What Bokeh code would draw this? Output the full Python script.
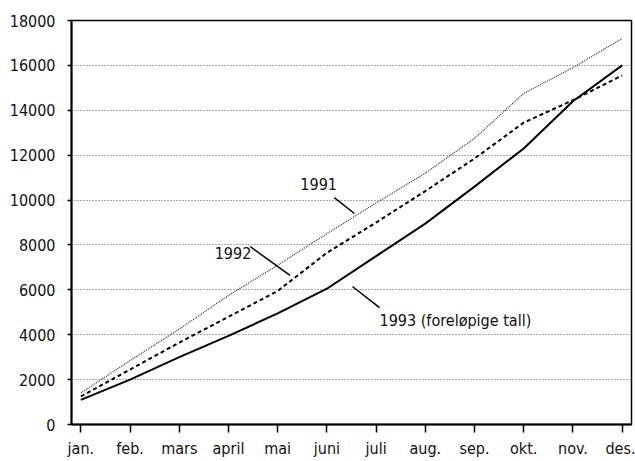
from bokeh.plotting import figure
from bokeh.models import FixedTicker, ColumnDataSource
from bokeh.core.properties import value
from bokeh.embed import file_html
from bokeh.resources import INLINE

months = ["jan.", "feb.", "mars", "april", "mai", "juni", "juli", "aug.", "sep.", "okt.", "nov.", "des."]
y1991 = [1400, 2850, 4250, 5750, 7100, 8500, 9870, 11200, 12750, 14750, 15900, 17200]
y1992 = [1250, 2450, 3650, 4800, 5950, 7650, 9000, 10400, 11850, 13450, 14450, 15550]
y1993 = [1100, 2000, 3000, 3950, 4950, 6050, 7500, 8950, 10600, 12300, 14400, 16000]
y_ticks = [0, 2000, 4000, 6000, 8000, 10000, 12000, 14000, 16000, 18000]

labels = ["1991", "1992", "1993 (foreløpige tall)"]
label_x = [4.46, 2.72, 6.07]
label_y = [10700, 7620, 4630]
lead_x0 = [5.15, 3.44, 5.52]
lead_y0 = [10110, 7930, 6150]
lead_x1 = [5.56, 4.25, 6.07]
lead_y1 = [9400, 6640, 5210]

FONT = "'DejaVu Sans Condensed', 'Liberation Sans', sans-serif"
x = list(range(len(months)))

p = figure(width=635, height=461, output_backend="svg", toolbar_location=None,
           x_range=(-0.19, 11.19), y_range=(0, 18000),
           min_border_left=71, min_border_top=20, min_border_right=4, min_border_bottom=37)
p.background_fill_color = "white"
p.border_fill_color = "white"
p.outline_line_color = "black"
p.outline_line_width = 1.5

p.xgrid.grid_line_color = None
p.ygrid.grid_line_color = "#555555"
p.ygrid.grid_line_dash = "1 2"
p.ygrid.grid_line_width = 1

p.xaxis.ticker = FixedTicker(ticks=x)
p.xaxis.major_label_overrides = {i: m for i, m in enumerate(months)}
p.yaxis.ticker = FixedTicker(ticks=y_ticks)
for ax in (p.xaxis[0], p.yaxis[0]):
    ax.axis_line_width = 2
    ax.axis_line_color = "black"
    ax.major_tick_line_color = "black"
    ax.major_tick_line_width = 1.5
    ax.minor_tick_line_color = None
    ax.major_tick_in = 0
    ax.major_label_text_font = FONT
    ax.major_label_text_font_size = "16px"
    ax.major_label_text_color = "#111111"
p.xaxis.major_tick_out = 8
p.xaxis.major_label_standoff = 6
p.yaxis.major_tick_out = 4
p.yaxis.major_label_standoff = 12

p.line(x, y1991, line_color="#333333", line_width=1.2, line_dash="1 1")
p.line(x, y1992, line_color="black", line_width=2, line_dash="4 3")
p.line(x, y1993, line_color="black", line_width=2)

src = ColumnDataSource(dict(t=labels, x=label_x, y=label_y))
p.text(x="x", y="y", text="t", source=src, text_font=value(FONT), text_font_size="16px",
       text_color="#111111", text_baseline="alphabetic", text_align="left")
p.segment(x0=lead_x0, y0=lead_y0, x1=lead_x1, y1=lead_y1, line_color="black", line_width=1.5)

open("out.html", "w").write(file_html(p, INLINE))
